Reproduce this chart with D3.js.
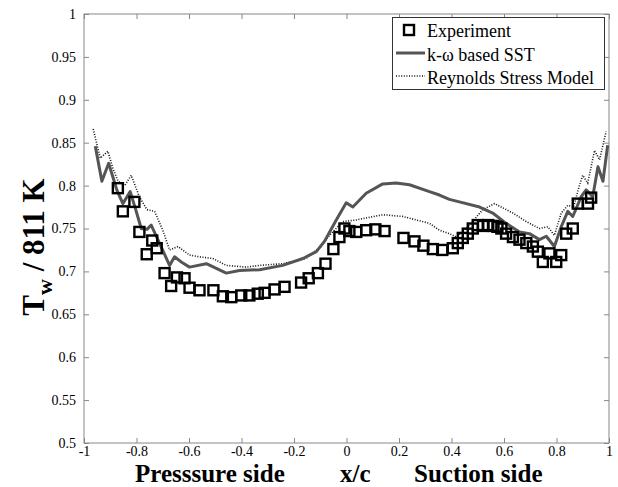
<!DOCTYPE html>
<html><head><meta charset="utf-8">
<script src="https://cdn.jsdelivr.net/npm/d3@7"></script>
<style>body{margin:0;background:#fff}</style>
</head><body>
<script>
const xTicks = [-1,-0.8,-0.6,-0.4,-0.2,0,0.2,0.4,0.6,0.8,1];
const yTicks = [0.5,0.55,0.6,0.65,0.7,0.75,0.8,0.85,0.9,0.95,1];
const seriesNames = ["Experiment","k-\u03c9 based SST","Reynolds Stress Model"];

const expX = [-0.871,-0.852,-0.808,-0.789,-0.761,-0.740,-0.723,-0.693,-0.668,-0.646,-0.617,-0.598,-0.560,-0.507,-0.471,-0.439,-0.401,-0.370,-0.338,-0.312,-0.274,-0.236,-0.173,-0.144,-0.109,-0.080,-0.050,-0.027,-0.008,0.011,0.037,0.075,0.110,0.145,0.217,0.259,0.293,0.329,0.365,0.405,0.424,0.443,0.462,0.481,0.500,0.520,0.540,0.560,0.575,0.590,0.608,0.634,0.659,0.685,0.710,0.729,0.748,0.773,0.799,0.818,0.837,0.862,0.881,0.920,0.932];
const expY = [0.797,0.770,0.781,0.746,0.720,0.736,0.727,0.698,0.683,0.693,0.692,0.681,0.678,0.678,0.671,0.670,0.672,0.672,0.674,0.675,0.679,0.682,0.687,0.692,0.698,0.709,0.726,0.740,0.750,0.747,0.746,0.748,0.749,0.747,0.739,0.735,0.730,0.726,0.725,0.727,0.733,0.739,0.744,0.750,0.754,0.753,0.754,0.753,0.752,0.750,0.744,0.740,0.737,0.733,0.729,0.723,0.711,0.721,0.711,0.719,0.744,0.750,0.779,0.779,0.786];

const sstX = [-0.957,-0.932,-0.906,-0.875,-0.852,-0.824,-0.803,-0.782,-0.760,-0.744,-0.720,-0.674,-0.655,-0.625,-0.598,-0.534,-0.458,-0.408,-0.331,-0.243,-0.166,-0.115,-0.084,-0.039,-0.001,0.024,0.075,0.138,0.189,0.240,0.316,0.354,0.392,0.430,0.507,0.557,0.608,0.659,0.697,0.735,0.761,0.792,0.818,0.843,0.862,0.894,0.913,0.938,0.958,0.977,0.995];
const sstY = [0.846,0.805,0.826,0.795,0.779,0.793,0.772,0.750,0.749,0.754,0.738,0.707,0.717,0.710,0.705,0.709,0.698,0.701,0.702,0.707,0.715,0.723,0.735,0.760,0.780,0.775,0.791,0.802,0.803,0.801,0.793,0.789,0.784,0.781,0.775,0.768,0.756,0.746,0.744,0.737,0.741,0.729,0.752,0.770,0.764,0.787,0.795,0.787,0.822,0.805,0.847];

const rsmX = [-0.965,-0.938,-0.909,-0.890,-0.870,-0.845,-0.820,-0.789,-0.760,-0.731,-0.700,-0.674,-0.642,-0.598,-0.560,-0.509,-0.458,-0.382,-0.331,-0.244,-0.154,-0.097,-0.065,-0.014,0.037,0.139,0.215,0.316,0.354,0.392,0.420,0.469,0.519,0.564,0.634,0.685,0.735,0.767,0.792,0.818,0.843,0.865,0.888,0.900,0.919,0.945,0.964,0.989];
const rsmY = [0.866,0.832,0.840,0.820,0.805,0.800,0.812,0.787,0.772,0.770,0.748,0.725,0.729,0.719,0.717,0.715,0.707,0.705,0.707,0.709,0.715,0.729,0.742,0.758,0.760,0.766,0.764,0.756,0.748,0.744,0.740,0.754,0.772,0.779,0.768,0.758,0.750,0.752,0.742,0.768,0.777,0.775,0.801,0.812,0.803,0.841,0.830,0.863];

const W = 618, H = 487;
const L = 84, R = 609, T = 14, B = 443;
const serif = "'Liberation Serif','Times New Roman',serif";

const svg = d3.select("body").append("svg").attr("width", W).attr("height", H)
  .style("font-family", serif);

const x = d3.scaleLinear().domain([-1, 1]).range([L, R]);
const y = d3.scaleLinear().domain([0.5, 1]).range([B, T]);
const axisColor = "#888";
const fmt = d => String(d);

function styleAxis(g, showLabels) {
  g.select(".domain").remove();
  g.selectAll(".tick line").attr("stroke", axisColor).attr("stroke-width", 1);
  g.selectAll(".tick text").attr("fill", "#000").style("font-size", "14px").style("font-family", serif);
  if (!showLabels) g.selectAll(".tick text").remove();
}

svg.append("g").attr("transform", `translate(0,${B})`)
  .call(d3.axisBottom(x).tickValues(xTicks).tickFormat(fmt).tickSizeInner(-5).tickSizeOuter(0).tickPadding(3))
  .call(g => styleAxis(g, true));
svg.append("g").attr("transform", `translate(0,${T})`)
  .call(d3.axisTop(x).tickValues(xTicks).tickSizeInner(-5).tickSizeOuter(0))
  .call(g => styleAxis(g, false));
svg.append("g").attr("transform", `translate(${L},0)`)
  .call(d3.axisLeft(y).tickValues(yTicks).tickFormat(fmt).tickSizeInner(-5).tickSizeOuter(0).tickPadding(8))
  .call(g => styleAxis(g, true));
svg.append("g").attr("transform", `translate(${R},0)`)
  .call(d3.axisRight(y).tickValues(yTicks).tickSizeInner(-5).tickSizeOuter(0))
  .call(g => styleAxis(g, false));

svg.append("rect").attr("x", L).attr("y", T).attr("width", R - L).attr("height", B - T)
  .attr("fill", "none").attr("stroke", axisColor).attr("stroke-width", 1);

const line = d3.line().x(d => x(d[0])).y(d => y(d[1]));
const sst = sstX.map((v, i) => [v, sstY[i]]);
const rsm = rsmX.map((v, i) => [v, rsmY[i]]);
const exp = expX.map((v, i) => [v, expY[i]]);

svg.append("path").datum(rsm).attr("d", line).attr("fill", "none")
  .attr("stroke", "#111").attr("stroke-width", 1.6).attr("stroke-dasharray", "1,1.6");
svg.append("path").datum(sst).attr("d", line).attr("fill", "none")
  .attr("stroke", "#555").attr("stroke-width", 3).attr("stroke-linejoin", "round");

const s = 10;
svg.append("g").selectAll("rect").data(exp).join("rect")
  .attr("x", d => x(d[0]) - s / 2).attr("y", d => y(d[1]) - s / 2)
  .attr("width", s).attr("height", s)
  .attr("fill", "none").attr("stroke", "#000").attr("stroke-width", 2.4);

// legend
const lg = svg.append("g");
lg.append("rect").attr("x", 392.5).attr("y", 17.5).attr("width", 212).attr("height", 72)
  .attr("fill", "#fff").attr("stroke", "#333").attr("stroke-width", 1);
lg.append("rect").attr("x", 404).attr("y", 25).attr("width", 10).attr("height", 10)
  .attr("fill", "none").attr("stroke", "#000").attr("stroke-width", 2.4);
lg.append("line").attr("x1", 396).attr("x2", 425).attr("y1", 53).attr("y2", 53)
  .attr("stroke", "#555").attr("stroke-width", 3);
lg.append("line").attr("x1", 396).attr("x2", 425).attr("y1", 76).attr("y2", 76)
  .attr("stroke", "#111").attr("stroke-width", 1.6).attr("stroke-dasharray", "1,1.6");
const ly = [37, 61, 84];
seriesNames.forEach((n, i) => {
  lg.append("text").attr("x", 427).attr("y", ly[i]).text(n)
    .style("font-size", "18px").attr("fill", "#000");
});

// axis titles
const xt = svg.append("g").style("font-size", "25px").style("font-weight", "bold");
xt.append("text").attr("x", 135).attr("y", 481.5).text("Presssure side");
xt.append("text").attr("x", 340).attr("y", 481.5).text("x/c");
xt.append("text").attr("x", 414).attr("y", 481.5).text("Suction side");

const yt = svg.append("text").attr("transform", "translate(44,247) rotate(-90)")
  .attr("text-anchor", "middle").style("font-size", "31px").style("font-weight", "bold");
yt.append("tspan").text("T");
yt.append("tspan").attr("dy", 8).style("font-size", "22px").text("w");
yt.append("tspan").attr("dy", -8).text(" / 811 K");
</script>
</body></html>
